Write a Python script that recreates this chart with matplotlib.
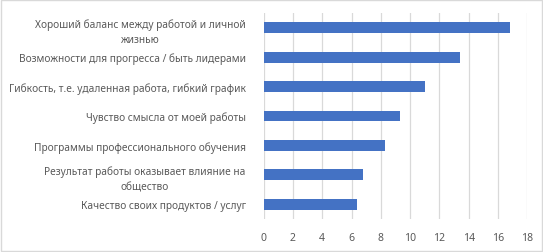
import matplotlib
matplotlib.use("Agg")
import matplotlib.pyplot as plt
from matplotlib.patches import Rectangle

categories = [
    "Хороший баланс между работой и личной\nжизнью",
    "Возможности для прогресса / быть лидерами",
    "Гибкость, т.е. удаленная работа, гибкий график",
    "Чувство смысла от моей работы",
    "Программы профессионального обучения",
    "Результат работы оказывает влияние на\nобщество",
    "Качество своих продуктов / услуг",
]
values = [16.8, 13.4, 11.0, 9.3, 8.3, 6.8, 6.4]
xticks = [0, 2, 4, 6, 8, 10, 12, 14, 16, 18]

plt.rcParams['font.family'] = ['Noto Sans', 'DejaVu Sans']
text_color = "#595959"
grid_color = "#d9d9d9"
bar_color = "#4472c4"

fig = plt.figure(figsize=(5.43, 2.53), dpi=100)
ax = fig.add_axes([0.4856, 0.1304, 0.4855, 0.8143])

ypos = list(range(len(categories)))
ax.barh(ypos, values, height=0.37, color=bar_color, zorder=3)
ax.set_ylim(len(categories) - 0.5, -0.5)
ax.set_xlim(0, 18)
ax.set_xticks(xticks)
ax.set_xticklabels([str(t) for t in xticks])
ax.set_yticks(ypos)
ax.set_yticklabels(categories)
ax.tick_params(axis="y", length=0, pad=13, labelsize=7.3, colors=text_color)
ax.tick_params(axis="x", length=0, pad=9, labelsize=7.5, colors=text_color)
for lab in ax.get_yticklabels():
    lab.set_ha("right")
    lab.set_multialignment("center")
    lab.set_linespacing(1.6)
ax.grid(axis="x", color=grid_color, linewidth=0.9, zorder=0)
for s in ax.spines.values():
    s.set_visible(False)

fig.patches.append(Rectangle((0.002, 0.004), 0.996, 0.992, transform=fig.transFigure,
                             fill=False, edgecolor=grid_color, linewidth=1.0))
fig.savefig("out.png", dpi=100)
